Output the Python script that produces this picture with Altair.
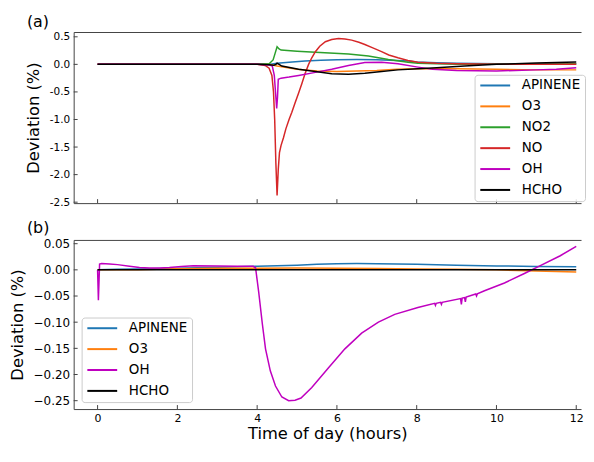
import altair as alt
import pandas as pd

FONT = "DejaVu Sans"
FRAME = "#444444"

# ---------------- Panel (a) ----------------
SERIES_A = ["APINENE", "O3", "NO2", "NO", "OH", "HCHO"]
COLORS_A = ["#1f77b4", "#ff7f0e", "#2ca02c", "#d62728", "#bf00bf", "#000000"]

T_APINENE_A = [0, 4.0, 4.3, 4.5, 4.8, 5.2, 5.6, 6.0, 6.5, 7.0, 7.5, 7.8, 8.0, 8.5, 9.0, 10.0, 11.0, 12.0]
V_APINENE_A = [0, 0, 0.0, 0.02, 0.04, 0.06, 0.075, 0.085, 0.087, 0.083, 0.07, 0.06, 0.045, 0.03, 0.02, 0.012, 0.01, 0.01]

T_O3_A = [0, 4.0, 4.3, 4.5, 5.0, 5.5, 6.0, 6.5, 7.0, 7.5, 8.0, 9.0, 10.0, 11.0, 12.0]
V_O3_A = [0, 0, 0.0, -0.03, -0.09, -0.12, -0.13, -0.12, -0.11, -0.09, -0.08, -0.08, -0.09, -0.1, -0.1]

T_NO2_A = [0, 4.0, 4.3, 4.4, 4.45, 4.5, 4.55, 4.6, 5.0, 5.46, 6.29, 6.79, 7.29, 7.78, 8.03, 8.5, 9.0, 10.0, 11.0, 12.0]
V_NO2_A = [0, 0, 0.01, 0.08, 0.2, 0.32, 0.28, 0.26, 0.24, 0.22, 0.19, 0.15, 0.09, 0.04, 0.02, 0.01, 0.0, 0.0, 0.0, 0.01]

T_NO_A = [0, 4.0, 4.2, 4.3, 4.37, 4.41, 4.44, 4.47, 4.5, 4.53, 4.56, 4.6, 4.66, 4.72, 4.8, 4.87, 4.95,
          5.04, 5.12, 5.2, 5.29, 5.37, 5.46, 5.57, 5.71, 5.87, 6.04, 6.2, 6.37, 6.55, 6.7, 6.9, 7.12,
          7.3, 7.53, 7.78, 8.03, 8.5, 9.0, 10.0, 11.0, 12.0]
V_NO_A = [0, 0, -0.02, -0.07, -0.2, -0.5, -1.0, -1.8, -2.38, -1.9, -1.6, -1.47, -1.33, -1.17, -1.0, -0.87, -0.7,
          -0.52, -0.35, -0.17, 0.0, 0.12, 0.23, 0.33, 0.41, 0.45, 0.47, 0.46, 0.44, 0.4, 0.36, 0.3, 0.23,
          0.17, 0.12, 0.07, 0.04, 0.02, 0.01, 0.0, 0.0, 0.0]

T_OH_A = [0, 4.0, 4.3, 4.38, 4.43, 4.47, 4.49, 4.51, 4.53, 4.6, 4.8, 5.04, 5.46, 5.87, 6.29, 6.7, 7.12,
          7.53, 8.03, 8.4, 9.0, 10.0, 11.0, 11.5, 12.0]
V_OH_A = [0, 0, -0.01, -0.03, -0.2, -0.6, -0.8, -0.6, -0.27, -0.25, -0.23, -0.2, -0.145, -0.09, -0.02, 0.035, 0.04,
          0.01, -0.05, -0.09, -0.11, -0.12, -0.1, -0.09, -0.06]

T_HCHO_A = [0, 4.0, 4.3, 4.42, 4.47, 4.5, 4.55, 4.62, 5.04, 5.46, 5.87, 6.29, 6.7, 7.12, 7.53, 8.03, 8.5,
            9.2, 10.0, 11.0, 12.0]
V_HCHO_A = [0, 0, -0.005, -0.015, 0.0, 0.02, 0.0, -0.03, -0.09, -0.13, -0.17, -0.18, -0.16, -0.13, -0.1, -0.08,
            -0.06, -0.03, 0.0, 0.025, 0.045]

YTICKS_A = [-2.5, -2.0, -1.5, -1.0, -0.5, 0.0, 0.5]
YDOMAIN_A = [-2.517, 0.587]

# ---------------- Panel (b) ----------------
SERIES_B = ["APINENE", "O3", "OH", "HCHO"]
COLORS_B = ["#1f77b4", "#ff7f0e", "#bf00bf", "#000000"]

T_APINENE_B = [0, 0.5, 1, 2, 3, 4, 4.5, 5, 5.5, 6, 6.5, 7, 8, 9, 10, 11, 12]
V_APINENE_B = [0, 0.001, 0.0015, 0.003, 0.005, 0.007, 0.008, 0.0090, 0.0105, 0.0115, 0.012, 0.0118, 0.0105,
               0.009, 0.0075, 0.0065, 0.0058]

T_O3_B = [0, 1, 2, 3, 4, 5, 6, 7, 8, 9, 10, 11, 12]
V_O3_B = [0, 0.0, 0.002, 0.003, 0.003, 0.0035, 0.003, 0.0025, 0.0015, 0.001, 0.0, -0.002, -0.004]

T_OH_B = [0, 0.02, 0.05, 0.1, 0.3, 0.5, 0.8, 1.05, 1.3, 1.55, 1.8, 2.1, 2.4, 3.0, 3.5, 3.9, 3.96, 4.04,
          4.13, 4.21, 4.33, 4.46, 4.62, 4.79, 4.95, 5.1, 5.37, 5.79, 6.2, 6.62, 7.04, 7.45, 8.03, 8.45,
          8.47, 8.49, 8.6, 8.62, 8.64, 9.1, 9.12, 9.14, 9.2, 9.22, 9.24, 9.48, 9.5, 9.52, 9.7, 10.2,
          10.7, 11.1, 11.6, 12.0]
V_OH_B = [0, -0.058, 0.011, 0.012, 0.011, 0.01, 0.007, 0.0045, 0.0035, 0.0035, 0.0045, 0.0065, 0.0078,
          0.0072, 0.007, 0.0068, 0.004, -0.043, -0.103, -0.151, -0.193, -0.222, -0.243, -0.25, -0.249,
          -0.245, -0.225, -0.187, -0.151, -0.121, -0.1, -0.085, -0.072, -0.064, -0.068, -0.064, -0.062,
          -0.066, -0.062, -0.055, -0.066, -0.054, -0.053, -0.061, -0.052, -0.046, -0.05, -0.046, -0.04,
          -0.025, -0.007, 0.008, 0.027, 0.045]

T_HCHO_B = [0, 4, 8, 12]
V_HCHO_B = [0, 0, 0, 0]

YTICKS_B = [-0.25, -0.20, -0.15, -0.10, -0.05, 0.0, 0.05]
YDOMAIN_B = [-0.266, 0.0572]

XTICKS = [0, 2, 4, 6, 8, 10, 12]
XDOMAIN = [-0.6, 12.12]

W = 510
H_A = 172
H_B = 170


def frame(ts, vs, names):
    rows = []
    for t_list, v_list, n in zip(ts, vs, names):
        for t, v in zip(t_list, v_list):
            rows.append({"t": t, "v": v, "series": n})
    return pd.DataFrame(rows)


df_a = frame([T_APINENE_A, T_O3_A, T_NO2_A, T_NO_A, T_OH_A, T_HCHO_A],
             [V_APINENE_A, V_O3_A, V_NO2_A, V_NO_A, V_OH_A, V_HCHO_A], SERIES_A)
df_b = frame([T_APINENE_B, T_O3_B, T_OH_B, T_HCHO_B],
             [V_APINENE_B, V_O3_B, V_OH_B, V_HCHO_B], SERIES_B)


def panel(df, series, colors, ydom, yticks, yfmt, ylabel_size, hyphen, legx, legy, H, title, xlabels):
    xs = alt.Scale(domain=XDOMAIN, nice=False, zero=False)
    ys = alt.Scale(domain=ydom, nice=False, zero=False)
    legend = alt.Legend(orient="none", legendX=legx, legendY=legy, title=None,
                        symbolType="M-1,0H5", symbolSize=100, symbolStrokeWidth=2,
                        labelOffset=30, labelFontSize=13.5, labelFont=FONT, labelColor="black",
                        padding=4, rowPadding=6, strokeColor="#cccccc",
                        fillColor="rgba(255,255,255,0.85)", cornerRadius=3)
    color = alt.Color("series:N", scale=alt.Scale(domain=series, range=colors), legend=legend)
    xaxis_kw = dict(values=XTICKS, ticks=False, grid=False, domainColor=FRAME, labelFlush=False)
    if xlabels:
        xaxis_kw.update(labels=True, labelFontSize=11, labelPadding=4, title="Time of day (hours)",
                        titlePadding=2)
    else:
        xaxis_kw.update(labels=False, title=None)
    yaxis_kw = dict(values=yticks, format=yfmt, ticks=False, grid=False, labelPadding=4,
                    labelFontSize=ylabel_size, title="Deviation (%)", titlePadding=8, domainColor=FRAME)
    if hyphen:
        yaxis_kw["labelExpr"] = "replace(datum.label, '\u2212', '-')"
    xaxis = alt.Axis(**xaxis_kw)
    yaxis = alt.Axis(**yaxis_kw)
    layers = []
    for s in series:
        layers.append(
            alt.Chart(df[df.series == s]).mark_line(strokeWidth=1.5, clip=True).encode(
                x=alt.X("t:Q", scale=xs, axis=xaxis),
                y=alt.Y("v:Q", scale=ys, axis=yaxis),
                color=color,
            )
        )
    yt = alt.Chart(pd.DataFrame({"v": yticks})).mark_rule(color=FRAME, strokeWidth=1).encode(
        y=alt.Y("v:Q", scale=ys, axis=yaxis),
        x=alt.value(0), x2=alt.value(4),
    )
    layers.append(yt)
    xt = alt.Chart(pd.DataFrame({"t": XTICKS})).mark_rule(color=FRAME, strokeWidth=1).encode(
        x=alt.X("t:Q", scale=xs, axis=alt.Axis(orient="top", labels=False, ticks=False, title=None,
                                               grid=False, domainColor=FRAME)),
        y=alt.value(H), y2=alt.value(H - 4),
    )
    return alt.layer(alt.layer(*layers), xt).resolve_axis(x="independent").properties(
        width=W, height=H,
        title=alt.TitleParams(title, anchor="start", frame="group", dx=-47, offset=2, fontSize=16,
                              font=FONT, fontWeight="normal", color="black"),
    )


top = panel(df_a, SERIES_A, COLORS_A, YDOMAIN_A, YTICKS_A, ".1f", 10.5, True, 403, 43, H_A, "(a)", False)
bottom = panel(df_b, SERIES_B, COLORS_B, YDOMAIN_B, YTICKS_B, ".2f", 12, False, 8, 78, H_B, "(b)", True)

chart = alt.vconcat(top, bottom, spacing=11).resolve_scale(
    x="independent", y="independent", color="independent"
).resolve_legend(color="independent").properties(
    padding={"left": 1, "top": 4, "right": 0, "bottom": 0}
).configure(font=FONT).configure_view(stroke=None).configure_axis(
    labelColor="black", titleColor="black", titleFontSize=16.4, titleFontWeight="normal",
    labelFont=FONT, titleFont=FONT,
)

chart.save("out.html", embed_options={"renderer": "svg", "actions": False})
